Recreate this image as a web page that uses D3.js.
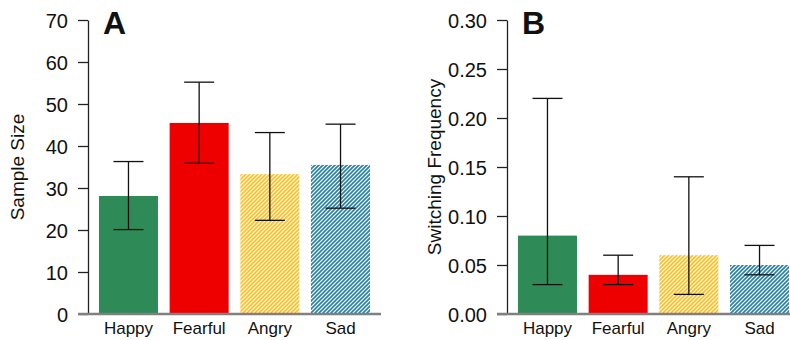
<!DOCTYPE html>
<meta charset="utf-8">
<style>
    body { margin: 0; background: #fff; }
    svg text { font-family: "Liberation Sans", Arial, sans-serif; fill: #111; }
    .panel-label { font-size: 32px; font-weight: bold; }
    .ylabel { font-size: 19px; }
</style>
<svg width="790" height="340"></svg>
<script src="https://d3js.org/d3.v7.min.js"></script>
<script>
    const categories = ["Happy", "Fearful", "Angry", "Sad"];

    // panel A: sample size
    const sizeMean = [28.1, 45.5, 33.3, 35.5];
    const sizeLow  = [20.1, 35.9, 22.3, 25.2];
    const sizeHigh = [36.3, 55.2, 43.2, 45.2];
    const sizeTicks = [0, 10, 20, 30, 40, 50, 60, 70];

    // panel B: switching frequency
    const freqMean = [0.08, 0.04, 0.06, 0.05];
    const freqLow  = [0.03, 0.03, 0.02, 0.04];
    const freqHigh = [0.22, 0.06, 0.14, 0.07];
    const freqTicks = [0, 0.05, 0.10, 0.15, 0.20, 0.25, 0.30];

    const fills = ["#2e8b57", "#ee0000", "url(#hatchGold)", "url(#hatchBlue)"];

    let svg = d3.select("svg");

    // hatch patterns for Angry and Sad
    let defs = svg.append("defs");
    function hatch(id, color) {
        let p = defs.append("pattern")
            .attr("id", id)
            .attr("patternUnits", "userSpaceOnUse")
            .attr("width", 4).attr("height", 4);
        p.append("rect").attr("width", 4).attr("height", 4).attr("fill", "#fff");
        p.append("path")
            .attr("d", "M-1,1 l2,-2 M0,4 l4,-4 M3,5 l2,-2")
            .attr("stroke", color)
            .attr("stroke-width", 1.6);
    }
    hatch("hatchGold", "#fdbd2a");
    hatch("hatchBlue", "#2a7da6");

    function panel(opts) {
        let g = svg.append("g");

        let y = d3.scaleLinear().domain(opts.domain).range([314, 20]);
        let x = d3.scaleBand().domain(categories)
            .range([opts.left, opts.left + 293]).paddingInner(0.165).paddingOuter(0.155);

        // bars
        g.selectAll("rect.bar")
            .data(categories)
            .enter().append("rect")
            .attr("class", "bar")
            .attr("x", d => x(d))
            .attr("width", x.bandwidth())
            .attr("y", (d, i) => y(opts.mean[i]))
            .attr("height", (d, i) => y(0) - y(opts.mean[i]))
            .attr("fill", (d, i) => fills[i]);

        // error bars
        let eb = g.selectAll("g.err")
            .data(categories)
            .enter().append("g")
            .attr("class", "err")
            .attr("stroke", "#111")
            .attr("stroke-width", 1.3);
        eb.append("line")
            .attr("x1", d => x(d) + x.bandwidth() / 2)
            .attr("x2", d => x(d) + x.bandwidth() / 2)
            .attr("y1", (d, i) => y(opts.low[i]))
            .attr("y2", (d, i) => y(opts.high[i]));
        eb.append("line")
            .attr("x1", d => x(d) + x.bandwidth() / 2 - 15)
            .attr("x2", d => x(d) + x.bandwidth() / 2 + 15)
            .attr("y1", (d, i) => y(opts.high[i]))
            .attr("y2", (d, i) => y(opts.high[i]));
        eb.append("line")
            .attr("x1", d => x(d) + x.bandwidth() / 2 - 15)
            .attr("x2", d => x(d) + x.bandwidth() / 2 + 15)
            .attr("y1", (d, i) => y(opts.low[i]))
            .attr("y2", (d, i) => y(opts.low[i]));

        // y axis
        let yAxis = g.append("g")
            .attr("transform", "translate(" + opts.left + ",0)")
            .call(d3.axisLeft(y).tickValues(opts.ticks).tickFormat(opts.fmt).tickSize(10).tickSizeOuter(0));
        yAxis.select(".domain").attr("stroke", "#222").attr("stroke-width", 1.3);
        yAxis.selectAll(".tick line").attr("stroke", "#222").attr("stroke-width", 1.3);
        yAxis.selectAll(".tick text").attr("x", -20).attr("dy", "0.35em")
            .style("font-size", "20px").style("font-family", "Liberation Sans, Arial, sans-serif");

        // x axis
        let xAxis = g.append("g")
            .attr("transform", "translate(0," + y(0) + ")")
            .call(d3.axisBottom(x).tickSize(0).tickSizeOuter(0));
        xAxis.select(".domain")
            .attr("d", "M" + (opts.left - 10) + ",0H" + opts.axisEnd)
            .attr("stroke", "#808080").attr("stroke-width", 2.5);
        xAxis.selectAll(".tick text").attr("y", 8).attr("dy", "0.71em")
            .style("font-size", "17px").style("font-family", "Liberation Sans, Arial, sans-serif");

        g.append("text")
            .attr("class", "ylabel")
            .attr("transform", "translate(" + opts.labelX + ",167) rotate(-90)")
            .attr("text-anchor", "middle")
            .text(opts.ylabel);

        g.append("text")
            .attr("class", "panel-label")
            .attr("x", opts.left + 15)
            .attr("y", 34)
            .text(opts.tag);
    }

    panel({
        left: 88, axisEnd: 381, domain: [0, 70], ticks: sizeTicks, fmt: d3.format("d"),
        mean: sizeMean, low: sizeLow, high: sizeHigh,
        ylabel: "Sample Size", labelX: 24, tag: "A"
    });

    panel({
        left: 507, axisEnd: 790, domain: [0, 0.30], ticks: freqTicks, fmt: d3.format(".2f"),
        mean: freqMean, low: freqLow, high: freqHigh,
        ylabel: "Switching Frequency", labelX: 441, tag: "B"
    });
</script>
<body>
</body>
